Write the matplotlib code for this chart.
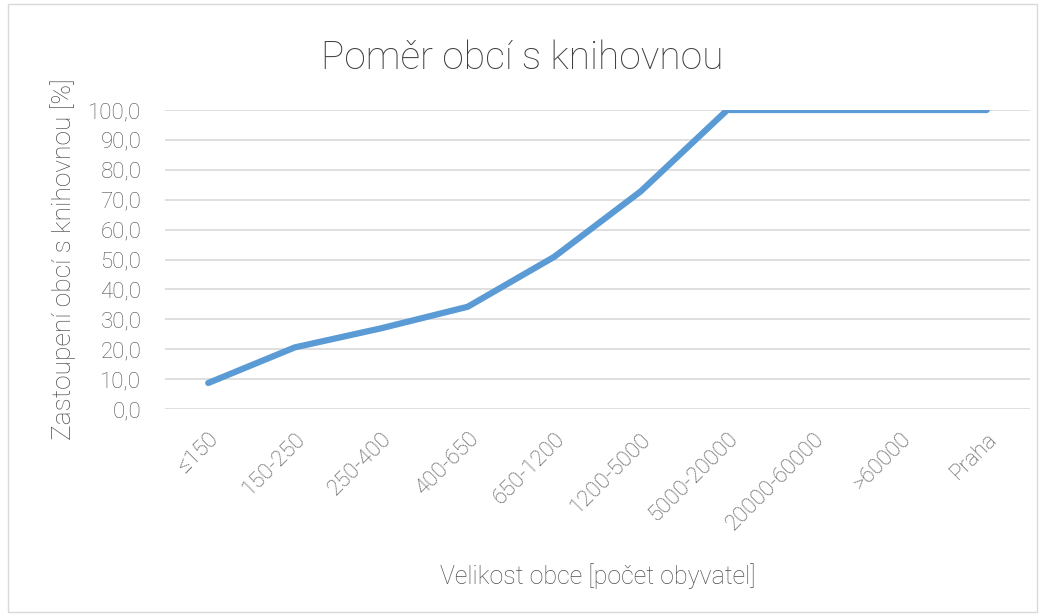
import matplotlib
matplotlib.use("Agg")
import matplotlib.pyplot as plt
from matplotlib.patches import Rectangle

# data
categories = ["≤150", "150-250", "250-400", "400-650", "650-1200",
              "1200-5000", "5000-20000", "20000-60000", ">60000", "Praha"]
share = [8.7, 20.6, 27.0, 34.2, 50.9, 72.8, 100.0, 100.0, 100.0, 100.0]
yticks = [0, 10, 20, 30, 40, 50, 60, 70, 80, 90, 100]

plt.rcParams['font.family'] = ['Roboto', 'DejaVu Sans']
plt.rcParams['font.weight'] = 'light'
plt.rcParams['axes.labelweight'] = 'light'
text_col = '#505050'

fig = plt.figure(figsize=(10.45, 6.16), dpi=100)
fig.patches.append(Rectangle((0.008, 0.006), 0.984, 0.988, transform=fig.transFigure,
                             fill=False, edgecolor='#d9d9d9', linewidth=1.0))
ax = fig.add_axes([165/1045, 1-409/616, (1030-165)/1045, (409-110)/616])

x = list(range(len(categories)))
ax.plot(x, share, color='#5b9bd5', linewidth=4.5, solid_capstyle='round', zorder=3)

ax.set_xlim(-0.5, len(categories) - 0.5)
ax.set_ylim(0, 100)
ax.set_yticks(yticks)
ax.set_yticklabels([f"{v:.1f}".replace('.', ',') for v in yticks])
ax.grid(axis='y', color='#d9d9d9', linewidth=1.2)
ax.set_axisbelow(True)
for s in ax.spines.values():
    s.set_visible(False)
ax.tick_params(length=0, colors=text_col, labelsize=16)
ax.tick_params(axis='y', pad=17)

ax.set_xticks(x)
ax.set_xticklabels(categories, rotation=45, ha='right', rotation_mode='anchor')
ax.tick_params(axis='x', pad=14)

ax.set_ylabel("Zastoupení obcí s knihovnou [%]", fontsize=19, color=text_col, labelpad=9)
ax.set_xlabel("Velikost obce [počet obyvatel]", fontsize=18, color=text_col, labelpad=21)
fig.text(0.5, 1-58/616, "Poměr obcí s knihovnou", ha='center', va='center',
         fontsize=28, color='#404040')

fig.savefig("out.png", dpi=100)
